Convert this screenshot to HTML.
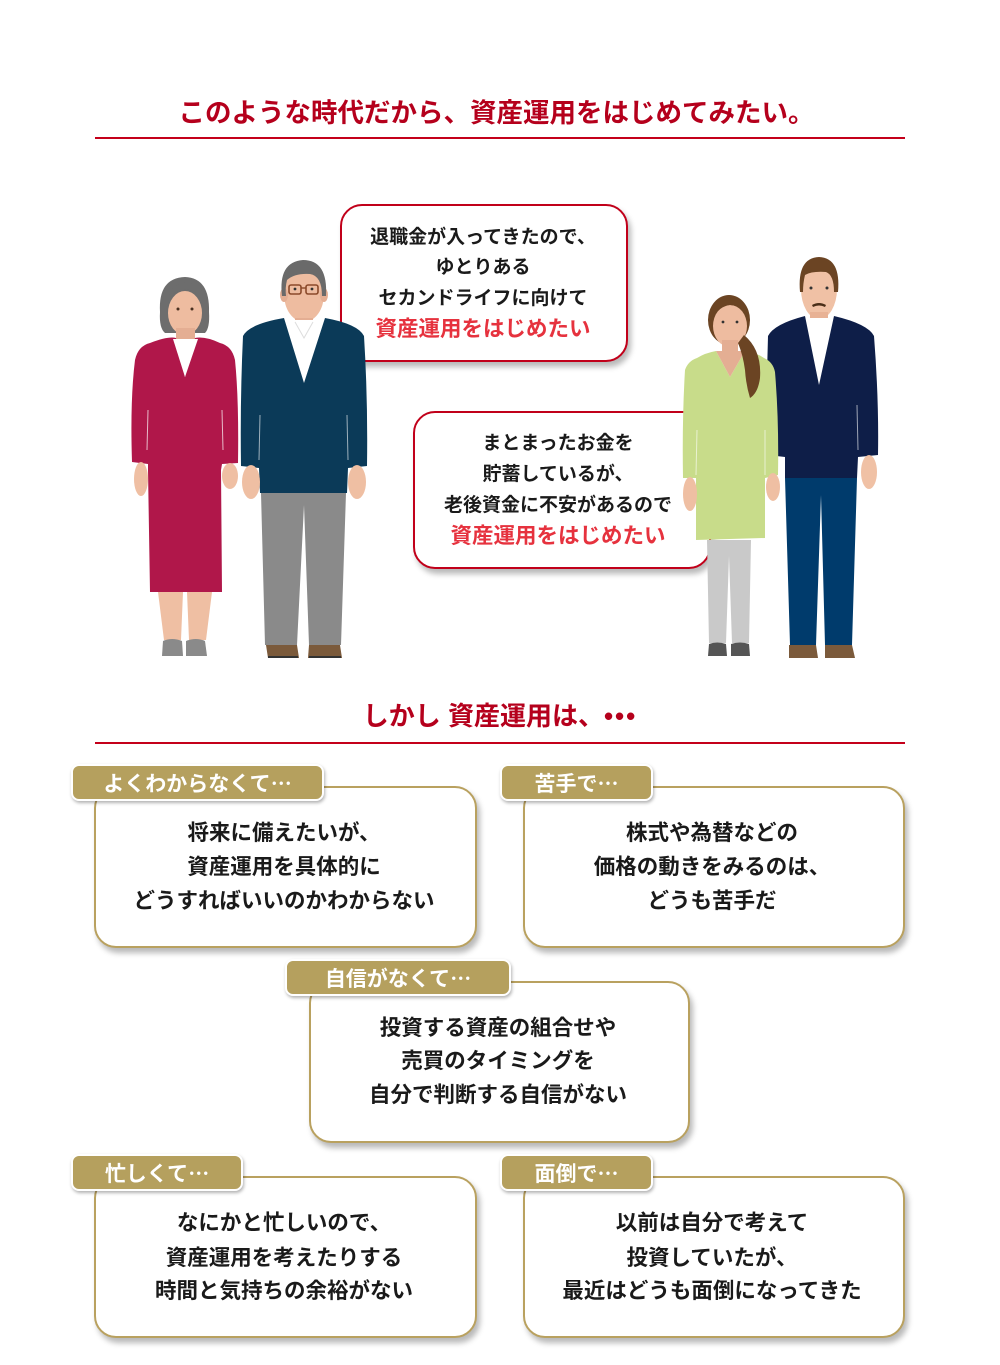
<!DOCTYPE html>
<html><head><meta charset="utf-8">
<style>
html,body{margin:0;padding:0;background:#fff;}
body{width:1000px;height:1365px;position:relative;overflow:hidden;font-family:"Liberation Sans","Noto Sans CJK JP",sans-serif;}
.t{position:absolute;text-align:center;white-space:nowrap;font-weight:bold;color:#1a1a1a;}
.hl{position:absolute;height:2px;background:#c4001a;left:95px;width:810px;}
.bub{position:absolute;border:2.5px solid #c1001a;border-radius:22px;background:#fff;box-shadow:3px 5px 6px rgba(0,0,0,0.28);box-sizing:border-box;}
.box{position:absolute;border:2.5px solid #b9a15f;border-radius:22px;background:#fff;box-shadow:3px 5px 6px rgba(0,0,0,0.28);box-sizing:border-box;}
.tab{position:absolute;background:#b5a05e;border:2px solid #fff;border-radius:8px;box-shadow:1px 2px 3px rgba(0,0,0,0.3);box-sizing:border-box;color:#fff;font-weight:bold;font-size:21px;line-height:34px;text-align:center;white-space:nowrap;}
.el{font-family:"Noto Sans CJK JP",sans-serif;}
.bt{font-size:21.5px;line-height:26px;}
.st{font-size:19px;line-height:24px;}
.rt{font-size:21.5px;line-height:26px;color:#e6323e;}
</style></head><body>

<div class="t" style="left:0;width:993px;top:96px;font-size:26.5px;line-height:34px;color:#b5001c;">このような時代だから、資産運用をはじめてみたい。</div>
<div class="hl" style="top:137px;"></div>

<!-- speech bubbles -->
<div class="bub" style="left:340px;top:204px;width:288px;height:158px;"></div>
<div class="t st" style="left:340px;width:286px;top:226px;">退職金が入ってきたので、</div>
<div class="t st" style="left:340px;width:286px;top:256px;">ゆとりある</div>
<div class="t st" style="left:340px;width:286px;top:287px;">セカンドライフに向けて</div>
<div class="t rt" style="left:340px;width:286px;top:316px;">資産運用をはじめたい</div>

<div class="bub" style="left:413px;top:411px;width:298px;height:158px;"></div>
<div class="t st" style="left:413px;width:290px;top:432px;">まとまったお金を</div>
<div class="t st" style="left:413px;width:290px;top:463px;">貯蓄しているが、</div>
<div class="t st" style="left:413px;width:290px;top:494px;">老後資金に不安があるので</div>
<div class="t rt" style="left:413px;width:290px;top:523px;">資産運用をはじめたい</div>

<!-- people -->
<svg width="1000" height="700" style="position:absolute;left:0;top:0;" xmlns="http://www.w3.org/2000/svg">
  <!-- older woman -->
  <path d="M160 312 Q158 278 185 277 Q210 278 209 312 Q210 328 205 333 L165 333 Q159 328 160 312 Z" fill="#6d6d6d"/>
  <ellipse cx="185" cy="313" rx="17" ry="22" fill="#eebca0"/>
  <path d="M168 300 Q175 288 190 290 Q200 292 203 302 L203 293 Q196 282 183 283 Q170 285 168 300 Z" fill="#6d6d6d"/>
  <rect x="176" y="328" width="19" height="16" fill="#e4ae93"/>
  <circle cx="178" cy="309" r="1.5" fill="#4a3020"/><circle cx="192" cy="309" r="1.5" fill="#4a3020"/>
  <path d="M150 343 Q168 336 176 338 L185 377 L195 338 Q205 336 220 343 Q232 346 235 360 Q239 400 238 463 L222 464 L221 470 L222 592 L150 592 L148 470 L148 464 L132 462 Q130 400 135 360 Q138 346 150 343 Z" fill="#b0174a"/>
  <path d="M173 339 L198 339 L185 377 Z" fill="#fff"/>
  <path d="M148 410 L147 450" stroke="#fff" stroke-width="1" opacity="0.7"/>
  <path d="M222 410 L223 450" stroke="#fff" stroke-width="1" opacity="0.7"/>
  <ellipse cx="141" cy="479" rx="7" ry="17" fill="#efbfa3"/>
  <ellipse cx="230" cy="476" rx="8" ry="13" fill="#efbfa3"/>
  <path d="M158 592 L183 592 L181 640 L164 640 Z" fill="#efbfa3"/>
  <path d="M187 592 L212 592 L206 640 L189 640 Z" fill="#efbfa3"/>
  <path d="M163 641 Q172 637 182 641 L183 656 L162 656 Z" fill="#8a8a8a"/>
  <path d="M186 641 Q196 637 205 641 L207 656 L186 656 Z" fill="#8a8a8a"/>

  <!-- older man -->
  <ellipse cx="304" cy="294" rx="20" ry="28" fill="#eebca0"/>
  <ellipse cx="284" cy="295" rx="4" ry="7" fill="#e4ae93"/><ellipse cx="324" cy="295" rx="4" ry="7" fill="#e4ae93"/>
  <path d="M282 296 Q278 262 303 260 Q328 260 326 296 L322 296 Q322 276 310 274 Q295 273 287 280 Q285 288 286 296 Z" fill="#6a6a6a"/>
  <rect x="289" y="285" width="12" height="9" rx="2" fill="none" stroke="#8b4a2a" stroke-width="1.6"/>
  <rect x="306" y="285" width="12" height="9" rx="2" fill="none" stroke="#8b4a2a" stroke-width="1.6"/>
  <path d="M301 288 L306 288" stroke="#8b4a2a" stroke-width="1.4"/>
  <circle cx="295" cy="289" r="1.4" fill="#333"/><circle cx="312" cy="289" r="1.4" fill="#333"/>
  <rect x="295" y="318" width="18" height="8" fill="#e4ae93"/>
  <path d="M284 320 L325 320 L304 383 Z" fill="#fff"/>
  <path d="M295 322 L304 338 L313 322" fill="none" stroke="#ddd" stroke-width="1"/>
  <path d="M243 336 Q249 324 284 318 L304 383 L325 318 Q358 324 364 336 Q368 400 367 466 L348 468 L347 493 L260 493 L259 468 L241 466 Q240 400 243 336 Z" fill="#0b3a58"/>
  <path d="M260 415 L259 460" stroke="#fff" stroke-width="1" opacity="0.6"/>
  <path d="M347 415 L348 460" stroke="#fff" stroke-width="1" opacity="0.6"/>
  <ellipse cx="251" cy="482" rx="9" ry="17" fill="#efbfa3"/>
  <ellipse cx="357" cy="482" rx="9" ry="17" fill="#efbfa3"/>
  <path d="M261 493 L346 493 L341 645 L309 645 L304 505 L297 645 L265 645 Z" fill="#8a8a8a"/>
  <path d="M266 645 L297 645 L299 658 L268 658 Z" fill="#7b5a3b"/>
  <path d="M309 645 L340 645 L342 658 L308 658 Z" fill="#7b5a3b"/>
  <rect x="268" y="656" width="30" height="2" fill="#333"/><rect x="309" y="656" width="32" height="2" fill="#333"/>

  <!-- right man -->
  <ellipse cx="819" cy="289" rx="18" ry="30" fill="#f0c1a5"/>
  <path d="M800 292 Q797 258 819 257 Q841 258 838 292 L834 292 Q834 275 826 272 Q812 271 805 275 Q803 283 803 292 Z" fill="#6b4423"/>
  <circle cx="811" cy="288" r="1.5" fill="#333"/><circle cx="827" cy="288" r="1.5" fill="#333"/>
  <path d="M812 305 Q819 301 826 305 L825 307 Q819 304 813 307 Z" fill="#4a2e18"/>
  <path d="M815 313 L823 313 L819 316 Z" fill="#4a2e18"/>
  <rect x="810" y="312" width="18" height="10" fill="#e8b295"/>
  <path d="M805 318 L834 318 L819 385 Z" fill="#fff"/>
  <path d="M768 336 Q774 324 805 316 L819 385 L834 316 Q868 324 874 336 Q879 400 878 455 L858 457 L857 478 L785 478 L785 457 L768 455 Q766 400 768 336 Z" fill="#0e1e48"/>
  <path d="M857 405 L858 450" stroke="#fff" stroke-width="1" opacity="0.6"/>
  <ellipse cx="869" cy="472" rx="8" ry="17" fill="#f0c1a5"/>
  <path d="M785 478 L857 478 L852 645 L825 645 L821 495 L816 645 L790 645 Z" fill="#003b6c"/>
  <path d="M789 645 L816 645 L818 658 L789 658 Z" fill="#7b5a3b"/>
  <path d="M825 645 L852 645 L855 658 L825 658 Z" fill="#7b5a3b"/>

  <!-- right woman -->
  <ellipse cx="729" cy="320" rx="21" ry="25" fill="#6b4423"/>
  <ellipse cx="730" cy="326" rx="17" ry="21" fill="#eebca0"/>
  <path d="M711 322 Q713 300 730 300 Q747 300 749 322 L746 312 Q738 305 730 305 Q720 306 712 318 Z" fill="#6b4423"/>
  <circle cx="723" cy="322" r="1.4" fill="#333"/><circle cx="737" cy="322" r="1.4" fill="#333"/>
  <rect x="722" y="340" width="16" height="18" fill="#e4ae93"/>
  <path d="M697 358 Q705 353 716 351 L730 377 L745 351 Q757 353 764 358 Q773 362 775 372 Q779 420 778 475 L765 478 L765 538 L696 540 L696 478 L683 478 Q682 420 685 370 Q688 361 697 358 Z" fill="#c8dc8a"/>
  <path d="M716 351 L745 351 L730 377 Z" fill="#e4ae93"/>
  <path d="M744 335 Q762 350 760 378 Q758 393 750 398 Q746 385 745 370 Q743 355 738 343 Z" fill="#6b4423"/>
  <path d="M697 430 L696 475" stroke="#fff" stroke-width="1" opacity="0.6"/>
  <path d="M765 430 L765 475" stroke="#fff" stroke-width="1" opacity="0.6"/>
  <ellipse cx="690" cy="494" rx="7" ry="17" fill="#efbfa3"/>
  <ellipse cx="773" cy="487" rx="7" ry="14" fill="#efbfa3"/>
  <path d="M707 540 L751 540 L749 643 L732 643 L729 556 L726 643 L709 643 Z" fill="#c9c9c9"/>
  <path d="M709 644 Q717 641 726 644 L727 656 L708 656 Z" fill="#555"/>
  <path d="M731 644 Q740 641 749 644 L750 656 L731 656 Z" fill="#555"/>
</svg>

<!-- section 2 -->
<div class="t" style="left:0;width:1000px;top:699px;font-size:26px;line-height:34px;color:#b5001c;">しかし 資産運用は、<span style="letter-spacing:2px;">•••</span></div>
<div class="hl" style="top:742px;"></div>

<!-- box 1 -->
<div class="box" style="left:94px;top:786px;width:383px;height:162px;"></div>
<div class="tab" style="left:71px;top:764px;width:253px;height:37px;">よくわからなくて<span class="el">…</span></div>
<div class="t bt" style="left:94px;width:380px;top:820px;">将来に備えたいが、</div>
<div class="t bt" style="left:94px;width:380px;top:854px;">資産運用を具体的に</div>
<div class="t bt" style="left:94px;width:380px;top:888px;">どうすればいいのかわからない</div>

<!-- box 2 -->
<div class="box" style="left:523px;top:786px;width:382px;height:162px;"></div>
<div class="tab" style="left:500px;top:764px;width:153px;height:37px;">苦手で<span class="el">…</span></div>
<div class="t bt" style="left:523px;width:378px;top:820px;">株式や為替などの</div>
<div class="t bt" style="left:523px;width:378px;top:854px;">価格の動きをみるのは、</div>
<div class="t bt" style="left:523px;width:378px;top:888px;">どうも苦手だ</div>

<!-- box 3 -->
<div class="box" style="left:309px;top:981px;width:381px;height:162px;"></div>
<div class="tab" style="left:285px;top:959px;width:226px;height:37px;">自信がなくて<span class="el">…</span></div>
<div class="t bt" style="left:309px;width:378px;top:1015px;">投資する資産の組合せや</div>
<div class="t bt" style="left:309px;width:378px;top:1048px;">売買のタイミングを</div>
<div class="t bt" style="left:309px;width:378px;top:1082px;">自分で判断する自信がない</div>

<!-- box 4 -->
<div class="box" style="left:94px;top:1176px;width:383px;height:162px;"></div>
<div class="tab" style="left:71px;top:1154px;width:172px;height:37px;">忙しくて<span class="el">…</span></div>
<div class="t bt" style="left:94px;width:380px;top:1210px;">なにかと忙しいので、</div>
<div class="t bt" style="left:94px;width:380px;top:1245px;">資産運用を考えたりする</div>
<div class="t bt" style="left:94px;width:380px;top:1278px;">時間と気持ちの余裕がない</div>

<!-- box 5 -->
<div class="box" style="left:523px;top:1176px;width:382px;height:162px;"></div>
<div class="tab" style="left:500px;top:1154px;width:153px;height:37px;">面倒で<span class="el">…</span></div>
<div class="t bt" style="left:523px;width:378px;top:1210px;">以前は自分で考えて</div>
<div class="t bt" style="left:523px;width:378px;top:1245px;">投資していたが、</div>
<div class="t bt" style="left:523px;width:378px;top:1278px;">最近はどうも面倒になってきた</div>

</body></html>
